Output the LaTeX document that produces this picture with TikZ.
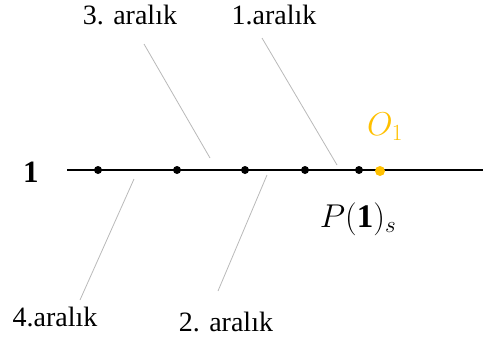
\RequirePackage{fix-cm}
\documentclass[tikz,border=0pt]{standalone}
\usepackage{fontspec}
\setmainfont{Liberation Serif}
\usetikzlibrary{arrows.meta,positioning}
\definecolor{ogold}{RGB}{255,192,0}
\definecolor{leadgray}{RGB}{185,185,185}

\begin{document}
\begin{tikzpicture}[x=1pt,y=-1pt,>=Latex]
\tikzstyle{lbl}=[inner sep=0pt,font=\fontsize{28}{32}\selectfont]
\tikzstyle{mlbl}=[inner sep=0pt,font=\fontsize{33}{36}\selectfont]
\tikzstyle{dot}=[circle,fill=black,inner sep=0pt,minimum size=8pt]
\tikzstyle{lead}=[draw=leadgray,line width=0.8pt]
\useasboundingbox (0,0) rectangle (483,340);
% number line
\coordinate (lstart) at (67,170);
\coordinate (lend) at (483,170);
\draw[line width=2.2pt] (lstart)--(lend);
\node[lbl,font=\fontsize{31}{34}\selectfont] (one) at (31,172) {\textbf{1}};
\foreach \x/\n in {98/d1,177/d2,245/d3,305/d4,359/d5}
  \node[dot] (\n) at (\x,170) {};
\node[circle,fill=ogold,inner sep=0pt,minimum size=10pt] (o1dot) at (380,171) {};
\node[mlbl,text=ogold] (o1) at (385,127) {$O_1$};
\node[mlbl] (ps) at (358,219) {$P(\mathbf{1})_s$};
% interval labels
\node[lbl] (ar3) at (130,15) {3. aralık};
\node[lbl] (ar1) at (274,15) {1.aralık};
\node[lbl] (ar4) at (55,317) {4.aralık};
\node[lbl] (ar2) at (226,322) {2. aralık};
% leader lines
\coordinate (c3a) at (144,44); \coordinate (c3b) at (210,158);
\coordinate (c1a) at (262,38); \coordinate (c1b) at (337,165);
\coordinate (c4a) at (134,179); \coordinate (c4b) at (80,300);
\coordinate (c2a) at (267,175); \coordinate (c2b) at (218,291);
\draw[lead] (c3a)--(c3b);
\draw[lead] (c1a)--(c1b);
\draw[lead] (c4a)--(c4b);
\draw[lead] (c2a)--(c2b);
\end{tikzpicture}
\end{document}
